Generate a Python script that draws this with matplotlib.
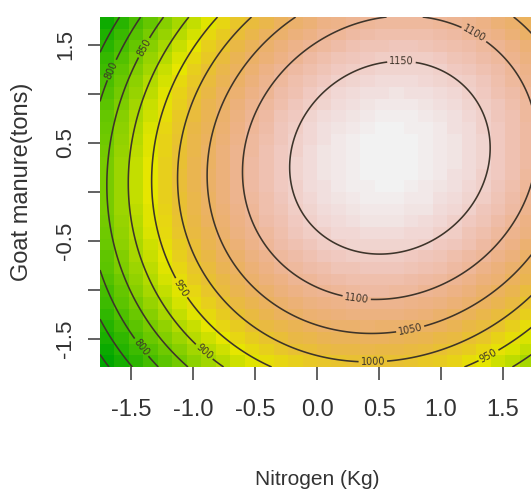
import numpy as np
import matplotlib
matplotlib.use("Agg")
import matplotlib.pyplot as plt
from matplotlib.colors import ListedColormap, hsv_to_rgb

# fitted response surface in coded units:
# yield = b0 + bN*N + bG*G + bNN*N^2 + bGG*G^2 + bNG*N*G
coef_names = ["b0", "bN", "bG", "bNN", "bGG", "bNG"]
coef_values = [1166.8, 74.35, 25.0, -66.5, -44.95, 11.0]

x_extent = [-1.75, 1.75]
y_extent = [-1.785, 1.785]
n_cells = 30
levels = [700, 750, 800, 850, 900, 950, 1000, 1050, 1100, 1150]

x_ticks = [-1.5, -1.0, -0.5, 0.0, 0.5, 1.0, 1.5]
x_tick_labels = ["-1.5", "-1.0", "-0.5", "0.0", "0.5", "1.0", "1.5"]
y_ticks = [-1.5, -1.0, -0.5, 0.0, 0.5, 1.0, 1.5]
y_tick_labels = ["-1.5", "", "-0.5", "", "0.5", "", "1.5"]

# where R put the contour labels
label_spots = [(-1.61, 1.22), (-1.35, 1.44), (-1.42, -1.59), (-0.91, -1.63),
               (-1.11, -0.99), (1.38, -1.66), (0.45, -1.72), (0.75, -1.39),
               (0.32, -1.08), (1.24, 1.55), (0.68, 1.25)]


def terrain_colors(n):
    # same recipe as R's terrain.colors()
    k = n // 2
    h = np.r_[np.linspace(4/12, 2/12, k), np.linspace(2/12, 0, n - k + 1)[1:]]
    s = np.r_[np.linspace(1, 1, k), np.linspace(1, 0, n - k + 1)[1:]]
    v = np.r_[np.linspace(.65, .9, k), np.linspace(.9, .95, n - k + 1)[1:]]
    return ListedColormap(hsv_to_rgb(np.column_stack([h, s, v])))


def surface(N, G):
    b0, bN, bG, bNN, bGG, bNG = coef_values
    return b0 + bN*N + bG*G + bNN*N**2 + bGG*G**2 + bNG*N*G


# coarse cells for the image, fine grid for the contour lines
xe = np.linspace(*x_extent, n_cells + 1)
ye = np.linspace(*y_extent, n_cells + 1)
xc = (xe[:-1] + xe[1:]) / 2
yc = (ye[:-1] + ye[1:]) / 2
Zc = surface(*np.meshgrid(xc, yc))
xf = np.linspace(*x_extent, 200)
yf = np.linspace(*y_extent, 200)
Zf = surface(*np.meshgrid(xf, yf))

font = ["Liberation Sans", "DejaVu Sans"]
txt = "#333333"
line_col = "#3d342a"

fig = plt.figure(figsize=(5.31, 4.94), dpi=100)
ax = fig.add_axes([100/531, (494-367)/494, 434/531, 350/494])

ax.pcolormesh(xe, ye, Zc, cmap=terrain_colors(100), shading="flat")
cs = ax.contour(xf, yf, Zf, levels=levels, colors=line_col, linewidths=1.15)
ax.clabel(cs, fmt="%d", fontsize=7, inline=True, inline_spacing=2,
          manual=label_spots, colors=line_col)
ax.set_xlim(x_extent)
ax.set_ylim(y_extent)

for sp in ax.spines.values():
    sp.set_visible(False)

ax.set_xticks(x_ticks)
ax.set_xticklabels(x_tick_labels, family=font, fontsize=17, color=txt)
ax.set_yticks(y_ticks)
ax.set_yticklabels(y_tick_labels, family=font, fontsize=16, color=txt,
                   rotation=90, va="center")
ax.tick_params(length=9, width=1.3, color="#555555")
ax.tick_params(axis="x", pad=14)
ax.tick_params(axis="y", pad=8)

fig.text(317/531, 1 - 479/494, "Nitrogen (Kg)", family=font, fontsize=15,
         color=txt, ha="center", va="center")
fig.text(22/531, 1 - 182/494, "Goat manure(tons)", family=font, fontsize=17,
         color=txt, ha="center", va="center", rotation=90)

fig.savefig("out.png", dpi=100)
